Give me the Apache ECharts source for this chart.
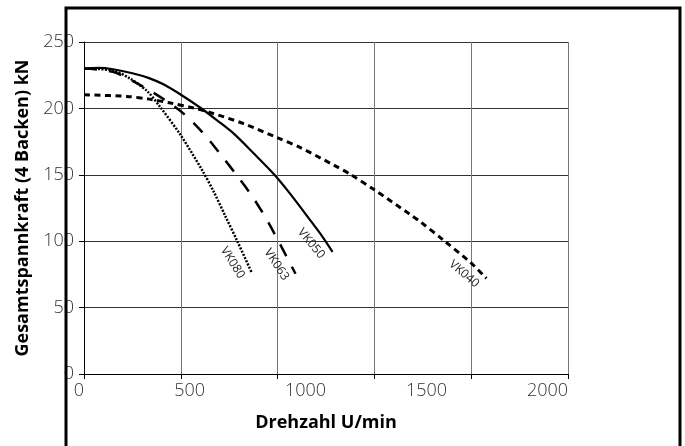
<!DOCTYPE html>
<html lang="de">
<head>
    <meta charset="UTF-8">
    <title>Gesamtspannkraft</title>
    <script src="https://cdn.jsdelivr.net/npm/echarts@6/dist/echarts.min.js"></script>
    <style>
        html, body {
            margin: 0;
            padding: 0;
            background: #fff;
        }
        #main {
            width: 685px;
            height: 446px;
        }
    </style>
</head>
<body>
    <div id="main"></div>
    <script>
        // Drehzahl (U/min) und Gesamtspannkraft (kN)
        var vk050Rpm = [0, 60, 120, 200, 266, 330, 399, 481, 550, 619, 702, 787, 857, 936, 985, 1027];
        var vk050Kn = [230, 230.5, 229.5, 226.5, 223, 218, 210.5, 200.5, 191, 181, 166, 150, 134.5, 115.5, 103.5, 92];

        var vk063Rpm = [0, 120, 233, 333, 415, 492, 568, 636, 698, 756, 808, 874];
        var vk063Kn = [230, 227.5, 217.5, 206.5, 195.5, 181.5, 164.5, 148.5, 133, 116, 98.5, 75.5];

        var vk080Rpm = [0, 120, 190, 261, 315, 399, 488, 536, 585, 633, 692];
        var vk080Kn = [230, 228.5, 222.5, 213, 201, 180, 153.5, 137.3, 118.5, 100.2, 76.7];

        var vk040Rpm = [0, 178, 275, 358, 454, 523, 660, 798, 894, 1032, 1101, 1200, 1349, 1391, 1487, 1597, 1663];
        var vk040Kn = [210.3, 209, 206.8, 204, 200.3, 196.8, 188.5, 178, 170.5, 157.3, 150.3, 138.7, 120, 114.5, 100.5, 84, 72];

        var xTickLabels = [0, 500, 1000, 1500, 2000];
        var seriesNames = ['VK050', 'VK063', 'VK080', 'VK040'];

        function pairs(xs, ys) {
            return xs.map(function (x, i) { return [x, ys[i]]; });
        }

        var font = 'Open Sans';

        // Linienstil und Beschriftung je Kurve
        var looks = {
            VK050: { width: 2.2, type: 'solid', rotate: -50, offset: [-20, 11] },
            VK063: { width: 2.5, type: [13, 12], rotate: -57, offset: [-18, 11] },
            VK080: { width: 2.5, type: [2, 1.5], rotate: -58, offset: [-18, 11] },
            VK040: { width: 3, type: [6, 4.5], rotate: -40, offset: [-20, 11] }
        };

        var curves = {
            VK050: pairs(vk050Rpm, vk050Kn),
            VK063: pairs(vk063Rpm, vk063Kn),
            VK080: pairs(vk080Rpm, vk080Kn),
            VK040: pairs(vk040Rpm, vk040Kn)
        };

        var series = seriesNames.map(function (name) {
            var pts = curves[name];
            var lk = looks[name];
            return {
                name: name,
                type: 'line',
                data: pts,
                showSymbol: false,
                smooth: 0.3,
                lineStyle: { color: '#000', width: lk.width, type: lk.type, cap: 'butt' },
                markPoint: {
                    symbol: 'circle',
                    symbolSize: 0,
                    silent: true,
                    data: [{ coord: pts[pts.length - 1] }],
                    label: {
                        show: true,
                        formatter: name,
                        rotate: lk.rotate,
                        offset: lk.offset,
                        color: '#222',
                        fontSize: 12,
                        fontFamily: font
                    }
                }
            };
        });

        var myChart = echarts.init(document.getElementById('main'));

        var option = {
            backgroundColor: '#fff',
            animation: false,
            grid: { left: 84, right: 117, top: 42, bottom: 72 },
            xAxis: [{
                // Gitterlinien alle 400 U/min
                type: 'value',
                min: 0,
                max: 2000,
                interval: 400,
                name: 'Drehzahl U/min',
                nameLocation: 'middle',
                nameGap: 40,
                nameTextStyle: { color: '#000', fontSize: 18, fontWeight: 'bold', fontFamily: font },
                axisLine: { lineStyle: { color: '#000', width: 1 } },
                axisTick: { show: true, length: 5, lineStyle: { color: '#000' } },
                axisLabel: { show: false },
                splitLine: { show: true, lineStyle: { color: '#777', width: 1 } }
            }, {
                // Beschriftung alle 500 U/min
                type: 'value',
                min: 0,
                max: 2000,
                interval: 500,
                position: 'bottom',
                axisLine: { show: false },
                axisTick: { show: false },
                splitLine: { show: false },
                axisLabel: {
                    interval: 0,
                    margin: 8,
                    align: 'right',
                    color: '#333',
                    fontSize: 18,
                    fontWeight: 300,
                    fontFamily: font,
                    formatter: function (v) {
                        return xTickLabels.indexOf(v) >= 0 ? String(v) : '';
                    }
                }
            }],
            yAxis: {
                type: 'value',
                min: 0,
                max: 250,
                interval: 50,
                name: 'Gesamtspannkraft (4 Backen) kN',
                nameLocation: 'middle',
                nameGap: 48,
                nameTextStyle: { color: '#000', fontSize: 18, fontWeight: 'bold', fontFamily: font },
                axisLine: { show: true, lineStyle: { color: '#000', width: 1 } },
                axisTick: { show: true, length: 5, lineStyle: { color: '#000' } },
                axisLabel: { margin: 10, color: '#333', fontSize: 18, fontWeight: 300, fontFamily: font },
                splitLine: { show: true, lineStyle: { color: '#333', width: 1 } }
            },
            graphic: [{
                type: 'rect',
                z: 100,
                silent: true,
                shape: { x: 66, y: 8, width: 614, height: 500 },
                style: { fill: 'none', stroke: '#000', lineWidth: 3 }
            }],
            series: series
        };

        myChart.setOption(option);
    </script>
</body>
</html>
